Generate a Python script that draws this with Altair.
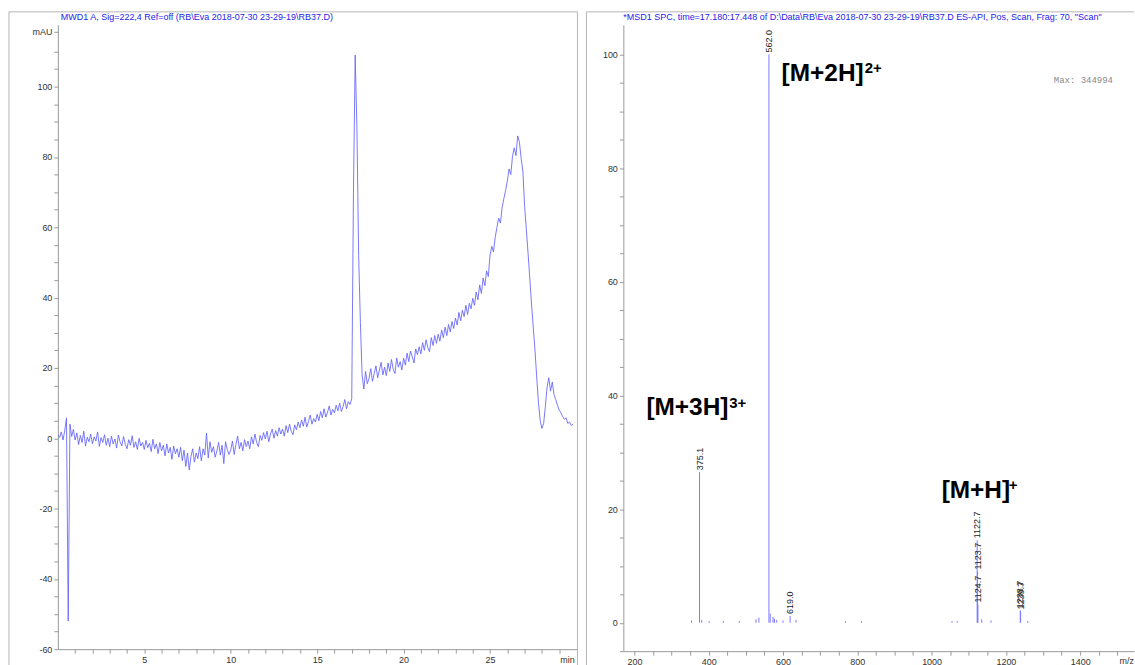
import altair as alt
import pandas as pd

# ---------------- data: chromatogram (UV 222 nm), 0.1 min sampling ----------------
chrom_t0 = 0.0
chrom_dt = 0.1
chrom_mAU = [
    1.0, 0.2, 1.8, -0.5, 2.2, 5.8, -52.0, 4.0, 0.5, 2.5,
    -0.5, 1.5, -1.8, 0.8, -1.2, 2.0, -2.2, 0.3, -1.0, 1.2,
    -1.6, 0.4, -0.8, 1.8, -2.3, 0.2, -1.2, 1.0, -2.0, 0.0,
    -2.4, 0.6, -1.6, -0.2, -2.8, 0.9, -1.1, -2.2, 0.5, -1.7,
    -3.0, -0.4, -2.0, 0.7, -2.6, -1.0, -3.2, 0.0, -2.2, -1.2,
    -3.2, -0.6, -2.7, -1.4, -3.8, -0.3, -3.0, -1.6, -4.4, -1.2,
    -3.6, -2.0, -5.0, -1.6, -4.2, -2.6, -6.0, -2.2, -4.4, -3.0,
    -5.4, -2.6, -6.4, -3.4, -8.0, -4.2, -9.0, -5.2, -3.0, -6.8,
    -4.2, -5.8, -2.4, -6.4, -3.0, -4.8, 1.5, -5.6, -1.0, -4.0,
    -2.4, -5.4, -3.6, -1.2, -4.8, -2.0, -7.2, -1.0, -3.2, -4.6,
    -3.4, -0.8, -4.6, -1.8, 0.6, -3.0, -1.2, -3.6, -0.4, -2.4,
    -0.8, -3.0, 0.4, -1.6, 1.2, -1.2, -2.4, 0.8, -0.6, 1.6,
    -0.2, 2.0, -1.0, 1.2, 2.6, 0.0, 2.2, 0.6, 3.0, 1.2,
    2.6, 0.6, 3.6, 1.6, 4.0, 2.0, 1.0, 3.8, 2.4, 4.6,
    3.0, 5.2, 3.4, 6.0, 3.2, 4.8, 6.6, 4.0, 5.6, 4.6,
    6.8, 5.0, 7.6, 5.8, 8.4, 6.0, 7.4, 9.2, 6.6, 8.2,
    7.2, 9.4, 7.8, 10.0, 7.6, 9.0, 11.0, 8.4, 10.4, 9.6,
    11.2, 70.0, 109.0, 88.0, 52.0, 33.0, 18.0, 14.0, 19.0, 15.5,
    17.0, 19.8, 16.2, 18.4, 20.6, 17.2, 19.4, 21.6, 18.0, 20.2,
    17.8, 21.4, 19.0, 22.4, 19.6, 18.4, 22.8, 20.2, 21.8, 19.4,
    22.8, 20.8, 24.2, 21.8, 24.8, 23.2, 21.4, 25.4, 23.8, 26.0,
    24.0, 27.2, 25.0, 28.0, 25.8, 24.6, 28.6, 26.4, 29.2, 27.0,
    29.6, 27.6, 30.8, 28.6, 31.6, 29.2, 32.4, 30.2, 33.2, 31.2,
    34.2, 32.2, 35.8, 33.4, 36.4, 34.6, 37.8, 35.2, 38.4, 36.8,
    39.8, 37.8, 41.6, 39.4, 43.6, 41.2, 45.6, 43.4, 47.6, 46.0,
    52.0, 54.6, 53.0, 57.2, 60.0, 62.6, 61.2, 65.6, 68.2, 70.4,
    73.2, 76.6, 75.0, 80.2, 82.6, 80.4, 86.0, 84.2, 79.6, 76.0,
    66.0, 59.4, 52.6, 45.4, 38.2, 31.6, 25.0, 17.4, 10.2, 5.0,
    2.8, 4.2, 9.0, 14.6, 17.2, 13.4, 16.0, 12.4, 11.0, 9.4,
    8.0, 7.2, 6.2, 5.4, 5.8, 4.2, 4.6, 3.6, 4.0,
]
chrom_title = "MWD1 A, Sig=222,4 Ref=off (RB\\Eva 2018-07-30 23-29-19\\RB37.D)"

# ---------------- data: mass spectrum (relative abundance) ----------------
spec_mz = [353.6, 375.1, 381.0, 401.0, 439.0, 482.0, 527.0, 535.0, 562.0, 565.5,
           573.0, 577.0, 583.0, 600.0, 619.0, 635.0, 768.0, 811.0, 1055.0, 1069.0,
           1122.7, 1123.7, 1124.7, 1135.0, 1160.0, 1238.7, 1239.7, 1259.0]
spec_abund = [0.4, 26.5, 0.5, 0.3, 0.3, 0.3, 0.6, 0.9, 100.0, 1.6,
              1.0, 0.7, 0.5, 0.4, 1.2, 0.5, 0.3, 0.3, 0.3, 0.3,
              14.5, 9.0, 3.2, 0.6, 0.4, 2.2, 2.0, 0.3]
label_mz = [375.1, 562.0, 619.0, 1122.7, 1123.7, 1124.7, 1238.7, 1239.7]
label_abund = [26.5, 100.0, 1.2, 14.5, 9.0, 3.2, 2.2, 2.0]
label_text = ["375.1", "562.0", "619.0", "1122.7", "1123.7", "1124.7", "1238.7", "1239.7"]

ion_text = ["[M+3H]", "[M+2H]", "[M+H]"]
ion_mz = [232.0, 596.0, 1027.0]
ion_y = [36.5, 95.3, 22.0]
ion_sup = ["3+", "2+", "+"]
ion_sup_mz = [455.0, 820.0, 1208.0]
ion_sup_y = [37.8, 96.8, 23.4]

max_text = ["Max: 344994"]
max_mz = [1329.0]
max_y = [95.5]

spec_title = ('*MSD1 SPC, time=17.180:17.448 of D:\\Data\\RB\\Eva 2018-07-30 23-29-19\\RB37.D'
              '    ES-API, Pos, Scan, Frag: 70, "Scan"')

# ---------------- styling ----------------
W1, H1 = 520, 626
W2, H2 = 512, 628
FRAME = "#b5b5b5"
LINE = "#6262fa"
STICK = "#7a7aff"
TITLE_C = "#2323f0"
FONT = "Liberation Sans"

one = pd.DataFrame({"k": [0]})


def rule(x=None, x2=None, y=None, y2=None):
    enc = {}
    if x is not None:
        enc["x"] = alt.value(x)
    if x2 is not None:
        enc["x2"] = alt.value(x2)
    if y is not None:
        enc["y"] = alt.value(y)
    if y2 is not None:
        enc["y2"] = alt.value(y2)
    return alt.Chart(one).mark_rule(color=FRAME, strokeWidth=1).encode(**enc)


# ---------------- left: chromatogram ----------------
chrom_df = pd.DataFrame({
    "t": [round(chrom_t0 + i * chrom_dt, 1) for i in range(len(chrom_mAU))],
    "mAU": chrom_mAU,
})

xL = alt.X("t:Q", title=None,
           scale=alt.Scale(domain=[0, 30], nice=False, zero=False),
           axis=alt.Axis(values=list(range(1, 30)),
                         labelExpr="datum.value % 5 == 0 ? datum.value + '' : ''",
                         labelOverlap=False, labelFlush=False))
yL = alt.Y("mAU:Q", title=None,
           scale=alt.Scale(domain=[-60, 117.6], nice=False, zero=False),
           axis=alt.Axis(values=list(range(-60, 115, 5)) + [115.6],
                         labelExpr="datum.value > 115 ? 'mAU' : (datum.value % 20 == 0 ? datum.value + '' : '')",
                         labelOverlap=False, labelFlush=False))

chrom_line = alt.Chart(chrom_df).mark_line(color=LINE, strokeWidth=0.85, clip=True).encode(x=xL, y=yL)

left_title = alt.Chart(one).mark_text(align="left", baseline="middle", fontSize=9, font=FONT,
                                      color=TITLE_C).encode(x=alt.value(3), y=alt.value(-8),
                                                            text=alt.value(chrom_title))
min_lab = alt.Chart(one).mark_text(align="center", baseline="middle", fontSize=9, font=FONT,
                                   color="#333333").encode(x=alt.value(511), y=alt.value(H1 + 11),
                                                           text=alt.value("min"))

left = alt.layer(
    chrom_line,
    rule(x=-49, y=-13, y2=H1 + 16),
    rule(x=-49, x2=521, y=-13),
    rule(x=521, y=-13, y2=H1 + 16),
    left_title,
    min_lab,
).properties(width=W1, height=H1)

# ---------------- right: mass spectrum ----------------
spec_df = pd.DataFrame({"mz": spec_mz, "ab": spec_abund, "base": [0.0] * len(spec_mz)})
lab_df = pd.DataFrame({"mz": label_mz, "ab": label_abund, "lab": label_text})
ion_df = pd.DataFrame({"mz": ion_mz, "ab": ion_y, "txt": ion_text})
sup_df = pd.DataFrame({"mz": ion_sup_mz, "ab": ion_sup_y, "txt": ion_sup})
max_df = pd.DataFrame({"mz": max_mz, "ab": max_y, "txt": max_text})

xscale = alt.Scale(domain=[170, 1545], nice=False, zero=False)
yscale = alt.Scale(domain=[-5, 105.2], nice=False, zero=False)
xaxis = alt.Axis(values=list(range(200, 1550, 50)),
                 labelExpr="datum.value % 200 == 0 ? datum.value + '' : ''",
                 labelOverlap=False, labelFlush=False)
yaxis = alt.Axis(values=list(range(-5, 105, 5)),
                 labelExpr="datum.value < 0 ? '' : (datum.value % 20 == 0 ? datum.value + '' : '')",
                 labelOverlap=False, labelFlush=False)

xR = alt.X("mz:Q", title=None, scale=xscale, axis=xaxis)
yR = alt.Y("ab:Q", title=None, scale=yscale, axis=yaxis)

sticks = alt.Chart(spec_df).mark_rule(color=STICK, strokeWidth=1).encode(
    x=xR, y=yR, y2=alt.Y2("base:Q"))
peak_labels = alt.Chart(lab_df).mark_text(angle=270, align="left", baseline="middle", dx=2,
                                          fontSize=9, font=FONT, color="#222222").encode(
    x=xR, y=yR, text="lab:N")
ions = alt.Chart(ion_df).mark_text(align="left", baseline="alphabetic", fontSize=24.5,
                                   fontWeight="bold", font=FONT, color="#000000").encode(
    x=xR, y=yR, text="txt:N")
sups = alt.Chart(sup_df).mark_text(align="left", baseline="alphabetic", fontSize=15,
                                   fontWeight="bold", font=FONT, color="#000000").encode(
    x=xR, y=yR, text="txt:N")
max_lab = alt.Chart(max_df).mark_text(align="left", baseline="middle", fontSize=9,
                                      font="Liberation Mono", color="#888888").encode(
    x=xR, y=yR, text="txt:N")

right_title = alt.Chart(one).mark_text(align="left", baseline="middle", fontSize=9, font=FONT,
                                       color=TITLE_C).encode(x=alt.value(0), y=alt.value(-8),
                                                             text=alt.value(spec_title))
mz_lab = alt.Chart(one).mark_text(align="right", baseline="middle", fontSize=9, font=FONT,
                                  color="#333333").encode(x=alt.value(W2), y=alt.value(H2 + 10),
                                                          text=alt.value("m/z"))

right = alt.layer(
    sticks,
    peak_labels,
    ions,
    sups,
    max_lab,
    rule(x=-37, y=-13, y2=H2 + 14),
    rule(x=-37, x2=W2, y=-13),
    right_title,
    mz_lab,
).properties(width=W2, height=H2)

chart = alt.hconcat(left, right, spacing=7).properties(
    padding={"left": 8, "top": 10, "right": 0, "bottom": 0},
    background="white",
).configure_view(stroke="transparent").configure_axis(
    grid=False,
    domainColor="#9a9a9a",
    tickColor="#9a9a9a",
    tickSize=4,
    labelColor="#333333",
    labelFont=FONT,
    labelFontSize=9,
    labelPadding=2,
)

chart.save("out.html", embed_options={"renderer": "svg", "actions": False})
